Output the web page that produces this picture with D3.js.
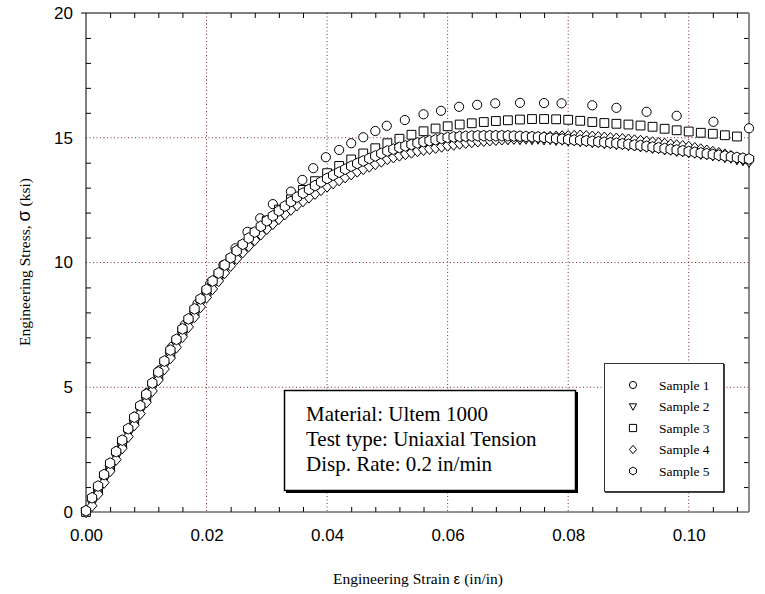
<!DOCTYPE html>
<html>
<meta charset="utf-8">
<style>
    body {
        margin: 0;
        background: #fff;
    }
    svg {
        display: block;
    }
    .axis text {
        font-family: "Liberation Sans", Arial, sans-serif;
        font-size: 17px;
        fill: #000;
    }
    .axis path {
        display: none;
    }
    .grid line {
        stroke: #7a2e2e;
        stroke-width: 1;
        stroke-dasharray: 1,2.5;
    }
    .mark {
        fill: #fff;
        stroke: #000;
        stroke-width: 1;
    }
</style>
<body>
<script src="https://cdn.jsdelivr.net/npm/d3@7"></script>
<svg id="chart" width="765" height="594"></svg>
<script>
// samples 2, 4, 5 share the same strain steps
var strainDense = [0.000,0.001,0.002,0.003,0.004,0.005,0.006,0.007,0.008,0.009,
    0.010,0.011,0.012,0.013,0.014,0.015,0.016,0.017,0.018,0.019,
    0.020,0.021,0.022,0.023,0.024,0.025,0.026,0.027,0.028,0.029,
    0.030,0.031,0.032,0.033,0.034,0.035,0.036,0.037,0.038,0.039,
    0.040,0.041,0.042,0.043,0.044,0.045,0.046,0.047,0.048,0.049,
    0.050,0.051,0.052,0.053,0.054,0.055,0.056,0.057,0.058,0.059,
    0.060,0.061,0.062,0.063,0.064,0.065,0.066,0.067,0.068,0.069,
    0.070,0.071,0.072,0.073,0.074,0.075,0.076,0.077,0.078,0.079,
    0.080,0.081,0.082,0.083,0.084,0.085,0.086,0.087,0.088,0.089,
    0.090,0.091,0.092,0.093,0.094,0.095,0.096,0.097,0.098,0.099,
    0.100,0.101,0.102,0.103,0.104,0.105,0.106,0.107,0.108,0.109,0.110];

var stress2 = [0.00,0.33,0.80,1.27,1.71,2.19,2.63,3.11,3.55,4.03,
    4.47,4.94,5.36,5.82,6.24,6.69,7.09,7.51,7.89,8.31,
    8.67,9.03,9.33,9.67,9.94,10.24,10.48,10.75,10.97,11.22,
    11.42,11.64,11.82,12.03,12.19,12.39,12.53,12.70,12.83,13.00,
    13.12,13.27,13.37,13.51,13.61,13.74,13.82,13.94,14.02,14.14,
    14.22,14.31,14.36,14.44,14.48,14.56,14.59,14.65,14.67,14.74,
    14.76,14.81,14.82,14.86,14.86,14.90,14.89,14.92,14.91,14.94,
    14.93,14.95,14.93,14.95,14.93,14.95,14.92,14.93,14.90,14.91,
    14.88,14.88,14.85,14.85,14.81,14.81,14.77,14.77,14.73,14.73,
    14.69,14.68,14.64,14.63,14.58,14.57,14.52,14.51,14.46,14.45,
    14.40,14.39,14.34,14.33,14.28,14.27,14.21,14.19,14.12,14.09,14.02];

var stress4 = [0.00,0.25,0.72,1.18,1.64,2.10,2.56,3.02,3.48,3.94,
    4.40,4.85,5.29,5.73,6.17,6.60,7.02,7.42,7.82,8.22,
    8.60,8.94,9.26,9.58,9.87,10.15,10.41,10.66,10.90,11.13,
    11.35,11.55,11.75,11.94,12.12,12.30,12.46,12.61,12.76,12.91,
    13.05,13.18,13.30,13.42,13.54,13.65,13.75,13.85,13.95,14.05,
    14.15,14.22,14.29,14.35,14.41,14.47,14.52,14.56,14.60,14.65,
    14.69,14.73,14.77,14.80,14.83,14.86,14.88,14.90,14.92,14.94,
    14.96,14.97,14.98,14.99,15.00,15.01,15.02,15.03,15.04,15.05,
    15.06,15.07,15.08,15.06,15.04,15.02,15.00,14.98,14.96,14.94,
    14.92,14.89,14.87,14.84,14.81,14.78,14.75,14.72,14.69,14.66,
    14.63,14.58,14.53,14.48,14.43,14.38,14.32,14.26,14.19,14.13,14.07];

var stress5 = [0.05,0.57,1.04,1.50,1.96,2.42,2.88,3.34,3.80,4.26,
    4.72,5.17,5.61,6.05,6.49,6.92,7.34,7.74,8.14,8.54,
    8.92,9.26,9.58,9.90,10.19,10.47,10.73,10.98,11.22,11.45,
    11.67,11.87,12.07,12.26,12.44,12.62,12.78,12.93,13.08,13.23,
    13.37,13.50,13.62,13.74,13.86,13.97,14.07,14.17,14.27,14.37,
    14.47,14.54,14.61,14.67,14.73,14.79,14.84,14.88,14.92,14.97,
    15.01,15.03,15.05,15.06,15.07,15.08,15.08,15.08,15.08,15.08,
    15.08,15.07,15.06,15.05,15.04,15.03,15.01,14.99,14.97,14.95,
    14.93,14.91,14.90,14.88,14.86,14.84,14.82,14.80,14.78,14.76,
    14.74,14.71,14.69,14.66,14.63,14.60,14.57,14.54,14.51,14.48,
    14.45,14.42,14.39,14.36,14.33,14.30,14.27,14.24,14.21,14.18,14.15];

var strain3 = [0.000,0.002,0.004,0.006,0.008,0.010,0.012,0.014,0.016,0.018,
    0.020,0.022,0.024,0.026,0.028,0.030,0.032,0.034,0.036,0.038,
    0.040,0.042,0.044,0.046,0.048,0.050,0.052,0.054,0.056,0.058,
    0.060,0.062,0.064,0.066,0.068,0.070,0.072,0.074,0.076,0.078,
    0.080,0.082,0.084,0.086,0.088,0.090,0.092,0.094,0.096,0.098,
    0.100,0.102,0.104,0.106,0.108];
var stress3 = [0.00,0.90,1.82,2.74,3.66,4.58,5.48,6.36,7.22,8.03,
    8.82,9.50,10.12,10.68,11.20,11.68,12.12,12.53,12.91,13.26,
    13.58,13.87,14.13,14.37,14.58,14.78,14.96,15.12,15.26,15.37,
    15.46,15.53,15.58,15.63,15.67,15.70,15.73,15.75,15.75,15.74,
    15.72,15.68,15.63,15.59,15.56,15.53,15.49,15.44,15.36,15.30,
    15.25,15.20,15.16,15.10,15.05];

var strain1 = [0.0000,0.0020,0.0041,0.0061,0.0081,0.0102,0.0122,0.0143,0.0164,0.0185,
    0.0206,0.0228,0.0248,0.0268,0.0289,0.0310,0.0340,0.0359,0.0377,0.0398,
    0.0420,0.0440,0.0460,0.0480,0.0499,0.0529,0.0560,0.0589,0.0619,0.0649,
    0.0679,0.0720,0.0760,0.0789,0.0840,0.0880,0.0930,0.0980,0.1041,0.1100];
var stress1 = [0.05,1.00,1.95,2.88,3.82,4.78,5.68,6.62,7.50,8.35,
    9.15,9.90,10.57,11.23,11.77,12.34,12.84,13.31,13.78,14.22,
    14.51,14.78,15.02,15.27,15.48,15.71,15.94,16.08,16.24,16.32,
    16.38,16.40,16.39,16.38,16.30,16.20,16.04,15.88,15.64,15.38];

var sampleNames = ["Sample 1", "Sample 2", "Sample 3", "Sample 4", "Sample 5"];
var xTicks = [0.00, 0.02, 0.04, 0.06, 0.08, 0.10];
var yTicks = [0, 5, 10, 15, 20];
var noteLines = ["Material: Ultem 1000", "Test type: Uniaxial Tension", "Disp. Rate: 0.2 in/min"];

var serif = "'Liberation Serif', 'Times New Roman', serif";
var sans = "'Liberation Sans', Arial, sans-serif";

var svg = d3.select("#chart");

var x = d3.scaleLinear().domain([0, 0.11]).range([86, 749]);
var y = d3.scaleLinear().domain([0, 20]).range([512, 13]);

// marker shapes, s = half size
var shapes = [
    function(s) { return "M" + s + ",0A" + s + "," + s + " 0 1,1 " + (-s) + ",0A" + s + "," + s + " 0 1,1 " + s + ",0Z"; },
    function(s) { return "M" + (-s) + "," + (-s * 0.75) + "L" + s + "," + (-s * 0.75) + "L0," + (s * 1.05) + "Z"; },
    function(s) { return "M" + (-s) + "," + (-s) + "H" + s + "V" + s + "H" + (-s) + "Z"; },
    function(s) { return "M0," + (-s * 1.15) + "L" + (s * 1.0) + ",0L0," + (s * 1.15) + "L" + (-s * 1.0) + ",0Z"; },
    function(s) {
        var w = s * 0.95, h = s * 1.1;
        return "M0," + (-h) + "L" + w + "," + (-h / 2) + "L" + w + "," + (h / 2) + "L0," + h +
            "L" + (-w) + "," + (h / 2) + "L" + (-w) + "," + (-h / 2) + "Z";
    }
];

// grid
var grid = svg.append("g").attr("class", "grid");
grid.selectAll("line.vx")
    .data(xTicks.slice(1))
    .enter().append("line")
    .attr("x1", function(d) { return x(d); })
    .attr("x2", function(d) { return x(d); })
    .attr("y1", y(20))
    .attr("y2", y(0));
grid.selectAll("line.hy")
    .data(yTicks.slice(1, 4))
    .enter().append("line")
    .attr("x1", x(0))
    .attr("x2", x(0.11))
    .attr("y1", function(d) { return y(d); })
    .attr("y2", function(d) { return y(d); });

// minor ticks, inside on all four sides
var xMinor = d3.range(0.004, 0.1101, 0.004).filter(function(d) { return Math.abs(d / 0.02 - Math.round(d / 0.02)) > 1e-6; });
var yMinor = d3.range(1, 20, 1).filter(function(d) { return d % 5 != 0; });

svg.append("g").attr("class", "axis").attr("transform", "translate(0," + y(0) + ")")
    .call(d3.axisBottom(x).tickValues(xMinor).tickSize(-5).tickFormat(""));
svg.append("g").attr("class", "axis").attr("transform", "translate(0," + y(20) + ")")
    .call(d3.axisTop(x).tickValues(xMinor).tickSize(-5).tickFormat(""));
svg.append("g").attr("class", "axis").attr("transform", "translate(" + x(0) + ",0)")
    .call(d3.axisLeft(y).tickValues(yMinor).tickSize(-5).tickFormat(""));
svg.append("g").attr("class", "axis").attr("transform", "translate(" + x(0.11) + ",0)")
    .call(d3.axisRight(y).tickValues(yMinor).tickSize(-5).tickFormat(""));
svg.selectAll(".axis .tick line").attr("stroke", "#000");

// tick labels
svg.append("g").attr("class", "axis").attr("transform", "translate(0," + y(0) + ")")
    .call(d3.axisBottom(x).tickValues(xTicks).tickSize(0).tickPadding(17).tickFormat(d3.format(".2f")));
svg.append("g").attr("class", "axis").attr("transform", "translate(" + x(0) + ",0)")
    .call(d3.axisLeft(y).tickValues(yTicks).tickSize(0).tickPadding(13).tickFormat(d3.format("d")));

// frame
svg.append("line").attr("x1", x(0)).attr("x2", x(0)).attr("y1", y(0)).attr("y2", y(20)).attr("stroke", "#000");
svg.append("line").attr("x1", x(0) - 5).attr("x2", x(0.11)).attr("y1", y(20)).attr("y2", y(20)).attr("stroke", "#000");
svg.append("line").attr("x1", x(0)).attr("x2", x(0.11)).attr("y1", y(0)).attr("y2", y(0)).attr("stroke", "#222");
svg.append("line").attr("x1", x(0.11)).attr("x2", x(0.11)).attr("y1", y(0)).attr("y2", y(20)).attr("stroke", "#666").attr("stroke-width", 1.5);

// data
var series = [
    { i: 0, xs: strain1, ys: stress1 },
    { i: 2, xs: strain3, ys: stress3 },
    { i: 1, xs: strainDense, ys: stress2 },
    { i: 3, xs: strainDense, ys: stress4 },
    { i: 4, xs: strainDense, ys: stress5 }
];
var sizes = [4.6, 5, 4.4, 5, 4.9];

series.forEach(function(s) {
    var pts = s.xs.map(function(v, k) { return [v, s.ys[k]]; });
    svg.append("g").selectAll("path")
        .data(pts)
        .enter().append("path")
        .attr("class", "mark")
        .attr("transform", function(d) { return "translate(" + x(d[0]) + "," + y(d[1]) + ")"; })
        .attr("d", shapes[s.i](sizes[s.i]));
});

// axis titles
var xt = svg.append("text")
    .attr("x", 418).attr("y", 584).attr("text-anchor", "middle")
    .attr("font-family", serif).attr("font-size", 15.5);
xt.append("tspan").text("Engineering Strain ");
xt.append("tspan").attr("font-family", sans).attr("font-size", 15).text("ε");
xt.append("tspan").text(" (in/in)");

var yt = svg.append("text")
    .attr("transform", "translate(30,262) rotate(-90)").attr("text-anchor", "middle")
    .attr("font-family", serif).attr("font-size", 15.5);
yt.append("tspan").text("Engineering Stress, ");
yt.append("tspan").attr("font-family", sans).attr("font-size", 18).text("σ");
yt.append("tspan").text(" (ksi)");

// note box
svg.append("rect").attr("x", 286).attr("y", 392).attr("width", 292).attr("height", 101).attr("fill", "#000");
svg.append("rect").attr("x", 284.5).attr("y", 390.5).attr("width", 291).attr("height", 100)
    .attr("fill", "#fff").attr("stroke", "#000").attr("stroke-width", 1.5);
svg.append("g").selectAll("text")
    .data(noteLines)
    .enter().append("text")
    .attr("x", 306)
    .attr("y", function(d, i) { return 421 + i * 25; })
    .attr("font-family", serif)
    .attr("font-size", 21)
    .text(function(d) { return d; });

// legend
svg.append("rect").attr("x", 605).attr("y", 364).attr("width", 120).attr("height", 129).attr("fill", "#444");
svg.append("rect").attr("x", 604.5).attr("y", 363.5).attr("width", 119).attr("height", 128)
    .attr("fill", "#fff").attr("stroke", "#333").attr("stroke-width", 1);
var leg = svg.append("g").selectAll("g")
    .data(sampleNames)
    .enter().append("g")
    .attr("transform", function(d, i) { return "translate(633," + (385 + i * 21.5) + ")"; });
leg.append("path").attr("class", "mark")
    .attr("d", function(d, i) { return shapes[i](3.6); });
leg.append("text")
    .attr("x", 26).attr("y", 4.5)
    .attr("font-family", serif)
    .attr("font-size", 13.5)
    .text(function(d) { return d; });
</script>
</body>
</html>
